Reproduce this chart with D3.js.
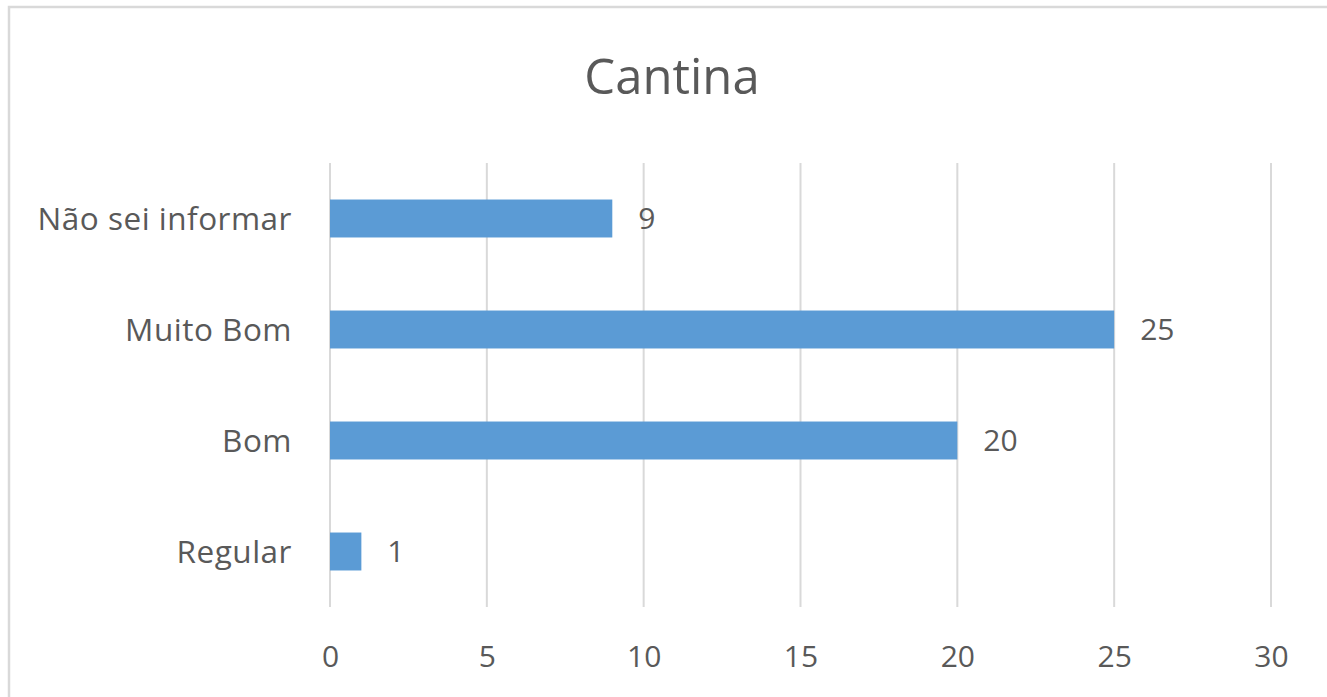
<!DOCTYPE html>
<html>
<head>
<meta charset="utf-8">
<script src="https://cdn.jsdelivr.net/npm/d3@7"></script>
<style>
  html, body { margin: 0; padding: 0; background: #ffffff; }
  svg { display: block; }
</style>
</head>
<body>
<svg id="chart" width="1327" height="697"></svg>
<script>
const title = "Cantina";
const categories = ["Não sei informar", "Muito Bom", "Bom", "Regular"];
const values = [9, 25, 20, 1];
const xTicks = [0, 5, 10, 15, 20, 25, 30];

const W = 1327, H = 697;
const font = "'Open Sans', 'Noto Sans', sans-serif";
const textColor = "#595959";
const gridColor = "#D9D9D9";
const barColor = "#5B9BD5";

const svg = d3.select("#chart");

// chart border
svg.append("rect")
  .attr("x", 9).attr("y", 7)
  .attr("width", W + 20).attr("height", H + 20)
  .attr("fill", "#fff")
  .attr("stroke", gridColor).attr("stroke-width", 2.5);

const x = d3.scaleLinear().domain([0, 30]).range([330, 1271]);
const y = d3.scaleBand().domain(categories).range([163, 607])
  .paddingInner(0.658).paddingOuter(0.329);

// gridlines
svg.append("g").selectAll("line").data(xTicks).join("line")
  .attr("x1", d => x(d)).attr("x2", d => x(d))
  .attr("y1", 163).attr("y2", 607)
  .attr("stroke", gridColor).attr("stroke-width", 2);

// x axis labels
const xAxis = d3.axisBottom(x).tickValues(xTicks).tickSize(0).tickPadding(0);
const gx = svg.append("g").attr("transform", "translate(0,646)").call(xAxis);
gx.select(".domain").remove();
gx.selectAll("text")
  .attr("fill", textColor)
  .style("font-family", font).style("font-size", "30px")
  .attr("dy", "0.71em");

// y axis labels
const yAxis = d3.axisLeft(y).tickSize(0).tickPadding(0);
const gy = svg.append("g").attr("transform", "translate(292,0)").call(yAxis);
gy.select(".domain").remove();
gy.selectAll("text")
  .attr("fill", textColor)
  .style("font-family", font).style("font-size", "31.5px")
  .style("letter-spacing", "0.5px")
  .attr("dy", "0.35em");

// bars
svg.append("g").selectAll("rect").data(values).join("rect")
  .attr("x", x(0))
  .attr("y", (d, i) => y(categories[i]))
  .attr("width", d => x(d) - x(0))
  .attr("height", y.bandwidth())
  .attr("fill", barColor);

// value labels
svg.append("g").selectAll("text").data(values).join("text")
  .attr("x", d => x(d) + 26)
  .attr("y", (d, i) => y(categories[i]) + y.bandwidth() / 2)
  .attr("dy", "0.36em")
  .attr("fill", textColor)
  .style("font-family", font).style("font-size", "30px")
  .text(d => d);

// title
svg.append("text")
  .attr("x", 672).attr("y", 94)
  .attr("text-anchor", "middle")
  .attr("fill", textColor)
  .style("font-family", font).style("font-size", "49px")
  .text(title);
</script>
</body>
</html>
